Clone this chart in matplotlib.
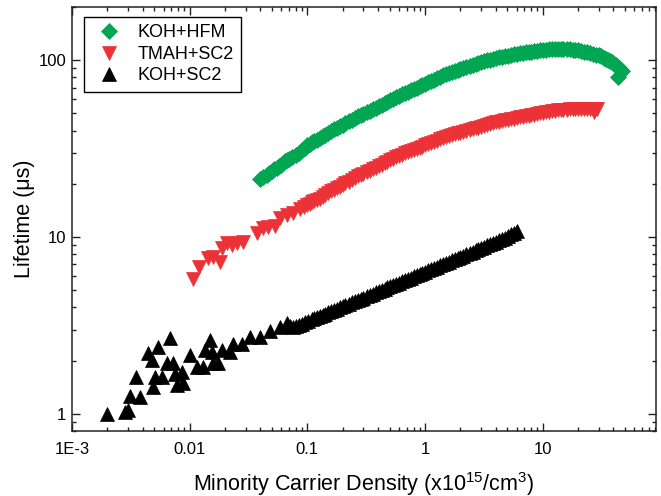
import matplotlib
matplotlib.use("Agg")
import matplotlib.pyplot as plt

plt.rcParams['font.family'] = ['Liberation Sans', 'DejaVu Sans']
plt.rcParams['mathtext.default'] = 'regular'

# KOH+HFM (green diamonds)
hfm_x = [0.04, 0.045, 0.05, 0.055, 0.06, 0.065, 0.07, 0.08, 0.09, 0.1,
         0.11, 0.12, 0.135, 0.15, 0.17, 0.19, 0.21, 0.24, 0.27, 0.3,
         0.34, 0.38, 0.43, 0.48, 0.54, 0.6, 0.68, 0.76, 0.85, 0.95,
         1.07, 1.2, 1.35, 1.5, 1.7, 1.9, 2.1, 2.4, 2.7, 3.0,
         3.4, 3.8, 4.3, 4.8, 5.4, 6.0, 6.8, 7.6, 8.5, 9.5,
         10.7, 12, 13.5, 15, 17, 19, 21, 24, 27, 30,
         33, 36, 39, 42, 45, 47, 43.5]
hfm_y = [21.2, 22.4, 23.6, 24.7, 25.7, 27.0, 27.6, 29.2, 30.9, 33.0,
         34.4, 35.6, 37.2, 38.8, 40.7, 42.5, 44.1, 46.2, 48.1, 49.8,
         51.9, 53.8, 56.1, 58.2, 60.5, 62.7, 65.3, 67.6, 70.0, 72.4,
         75.2, 77.8, 80.7, 83.4, 86.1, 88.5, 90.6, 93.3, 95.7, 97.7,
         100, 101.9, 103.8, 105.4, 107.2, 108.6, 110.2, 111.4, 112.7, 113.8,
         114.8, 115.3, 115.6, 115.6, 115.1, 114.3, 113, 110.9, 108.6, 106.4,
         103.5, 100.5, 97.3, 93.8, 90.2, 87.1, 80.0]
hfm_x2 = [0.0424, 0.0474, 0.0524, 0.0574, 0.0624, 0.0675, 0.0748, 0.0849, 0.0949, 0.105,
          0.115, 0.127, 0.142, 0.160, 0.180, 0.200, 0.225, 0.255, 0.285, 0.319,
          0.359, 0.404, 0.454, 0.509, 0.569, 0.639, 0.719, 0.804, 0.899, 1.008,
          1.133, 1.273, 1.423, 1.597, 1.797, 1.997, 2.245, 2.546, 2.846, 3.194,
          3.594, 4.042, 4.543, 5.091, 5.692, 6.387, 7.189, 8.037, 8.986, 10.08,
          11.33, 12.73, 14.23, 15.97, 17.97, 19.97, 22.45, 25.46, 28.46, 31.46,
          34.47, 37.47, 40.47, 43.47, 46.0]
hfm_y2 = [21.8, 23.0, 24.1, 25.2, 26.3, 27.3, 28.4, 30.0, 32.0, 33.7,
          35.0, 36.4, 38.0, 39.7, 41.6, 43.3, 45.1, 47.1, 48.9, 50.8,
          52.8, 54.9, 57.1, 59.3, 61.6, 64.0, 66.4, 68.8, 71.2, 73.8,
          76.5, 79.2, 82.0, 84.7, 87.3, 89.5, 91.9, 94.5, 96.7, 98.8,
          100.9, 102.8, 104.6, 106.3, 107.9, 109.4, 110.8, 112.0, 113.2, 114.3,
          115.0, 115.4, 115.6, 115.4, 114.7, 113.6, 112.0, 109.7, 107.5, 105.0,
          102.0, 98.9, 95.5, 92.0, 88.6]

# TMAH+SC2 (red down triangles)
tmah_x = [0.0107, 0.012, 0.0144, 0.0159, 0.0182, 0.0189, 0.0209, 0.023, 0.0254, 0.0285,
          0.0375, 0.0423, 0.0466, 0.0534, 0.0589, 0.0676, 0.076, 0.0871, 0.1,
          0.11, 0.12, 0.135, 0.15, 0.17, 0.19, 0.21, 0.24, 0.27, 0.3,
          0.34, 0.38, 0.43, 0.48, 0.54, 0.6, 0.68, 0.76, 0.85, 0.95,
          1.07, 1.2, 1.35, 1.5, 1.7, 1.9, 2.1, 2.4, 2.7, 3.0,
          3.4, 3.8, 4.3, 4.8, 5.4, 6.0, 6.8, 7.6, 8.5, 9.5,
          10.7, 12, 13.5, 15, 17, 19, 21, 24, 27, 29, 27.5]
tmah_y = [5.76, 6.74, 7.58, 7.68, 7.19, 8.63, 9.21, 8.97, 9.21, 9.33,
          10.6, 11.2, 11.4, 11.6, 12.8, 13.3, 13.6, 14.5, 15.1,
          15.7, 16.2, 16.9, 17.7, 18.5, 19.3, 20.1, 21.1, 22.0, 22.8,
          23.7, 24.6, 25.6, 26.6, 27.7, 28.7, 29.7, 30.6, 31.6, 32.5,
          33.6, 34.6, 35.7, 36.7, 37.8, 38.6, 39.4, 40.4, 41.2, 42.1,
          43.1, 44.0, 45.0, 45.7, 46.4, 47.1, 47.9, 48.6, 49.3, 50.0,
          50.8, 51.5, 52.0, 52.4, 52.7, 53.0, 53.1, 53.2, 53.2, 53.1, 50.8]
tmah_x2 = [0.0933, 0.105, 0.115, 0.127, 0.142, 0.160, 0.180, 0.200, 0.225, 0.255,
           0.285, 0.319, 0.359, 0.404, 0.454, 0.509, 0.569, 0.639, 0.719, 0.804,
           0.899, 1.008, 1.133, 1.273, 1.423, 1.597, 1.797, 1.997, 2.245, 2.546,
           2.846, 3.194, 3.594, 4.042, 4.543, 5.091, 5.692, 6.387, 7.189, 8.037,
           8.986, 10.08, 11.33, 12.73, 14.23, 15.97, 17.97, 19.97, 22.45, 25.46, 28.0]
tmah_y2 = [14.8, 15.4, 16.0, 16.5, 17.3, 18.1, 18.9, 19.7, 20.6, 21.5,
           22.4, 23.2, 24.1, 25.1, 26.1, 27.1, 28.2, 29.2, 30.1, 31.1,
           32.0, 33.0, 34.1, 35.1, 36.2, 37.2, 38.2, 39.0, 39.9, 40.8,
           41.6, 42.6, 43.5, 44.5, 45.3, 46.0, 46.7, 47.5, 48.2, 48.9,
           49.6, 50.4, 51.1, 51.7, 52.2, 52.5, 52.8, 53.0, 53.1, 53.2, 53.2]

# KOH+SC2 (black up triangles)
sc2_x = [0.00199, 0.00283, 0.0030, 0.00312, 0.00351, 0.00379, 0.00443, 0.0048, 0.00489, 0.00509,
         0.0054, 0.00583, 0.00644, 0.00682, 0.00724, 0.00753, 0.00783, 0.00863, 0.00881, 0.0101,
         0.0116, 0.013, 0.0135, 0.0149, 0.0155, 0.0158, 0.0175, 0.0189, 0.0221, 0.0235,
         0.028, 0.0327, 0.0398, 0.0484, 0.0589, 0.0676,
         0.075, 0.085, 0.095, 0.11, 0.12, 0.135, 0.15, 0.17, 0.19, 0.21,
         0.24, 0.27, 0.3, 0.34, 0.38, 0.43, 0.48, 0.54, 0.6, 0.68,
         0.76, 0.85, 0.95, 1.07, 1.2, 1.35, 1.5, 1.7, 1.9, 2.1,
         2.4, 2.7, 3.0, 3.4, 3.8, 4.3, 4.8, 5.4, 6.0]
sc2_y = [1.0, 1.02, 1.045, 1.27, 1.61, 1.24, 2.20, 2.01, 1.41, 1.61,
         2.38, 1.61, 1.93, 2.67, 1.93, 1.69, 1.45, 1.72, 1.49, 2.14,
         1.83, 1.83, 2.29, 2.60, 2.23, 1.95, 1.93, 2.29, 2.23, 2.50,
         2.50, 2.71, 2.71, 2.96, 3.08, 3.25,
         3.08, 3.19, 3.30, 3.43, 3.52, 3.64, 3.75, 3.88, 4.00, 4.11,
         4.27, 4.42, 4.55, 4.71, 4.86, 5.03, 5.19, 5.36, 5.52, 5.72,
         5.90, 6.09, 6.28, 6.49, 6.70, 6.93, 7.13, 7.39, 7.62, 7.84,
         8.15, 8.41, 8.67, 8.97, 9.27, 9.59, 9.89, 10.4, 10.8]
sc2_x2 = [0.0712, 0.0798, 0.0899, 0.102, 0.115, 0.127, 0.142, 0.160, 0.180, 0.200,
          0.225, 0.255, 0.285, 0.319, 0.359, 0.404, 0.454, 0.509, 0.569, 0.639,
          0.719, 0.804, 0.899, 1.008, 1.133, 1.273, 1.423, 1.597, 1.797, 1.997,
          2.245, 2.546, 2.846, 3.194, 3.594, 4.042, 4.543, 5.091, 5.692]
sc2_y2 = [3.16, 3.13, 3.24, 3.36, 3.47, 3.58, 3.69, 3.81, 3.94, 4.05,
          4.19, 4.34, 4.48, 4.63, 4.78, 4.94, 5.11, 5.27, 5.44, 5.62,
          5.81, 5.99, 6.18, 6.38, 6.59, 6.81, 7.03, 7.26, 7.50, 7.73,
          7.99, 8.28, 8.54, 8.82, 9.12, 9.43, 9.74, 10.1, 10.6]

fig = plt.figure(figsize=(6.61, 4.96), dpi=100)
ax = fig.add_axes([72/661, 1 - 431/496, 584/661, 424/496])

green = '#00A651'
red = '#ED3237'
ax.plot(hfm_x + hfm_x2, hfm_y + hfm_y2, ls='none', marker='D', ms=8.6, color=green,
        mec=green, mew=0.5, label='KOH+HFM')
ax.plot(tmah_x + tmah_x2, tmah_y + tmah_y2, ls='none', marker='v', ms=10, color=red,
        mec=red, mew=0.5, label='TMAH+SC2')
ax.plot(sc2_x + sc2_x2, sc2_y + sc2_y2, ls='none', marker='^', ms=10, color='black',
        mec='black', mew=0.5, label='KOH+SC2')

ax.set_xscale('log')
ax.set_yscale('log')
ax.set_xlim(1e-3, 92)
ax.set_ylim(0.8, 200)
ax.set_xticks([1e-3, 1e-2, 1e-1, 1, 10], ['1E-3', '0.01', '0.1', '1', '10'])
ax.set_yticks([1, 10, 100], ['1', '10', '100'])
ax.tick_params(which='both', direction='in', top=True, right=True,
               labelsize=12, color='#222222', width=1)
ax.tick_params(which='major', length=6)
ax.tick_params(axis='x', which='major', pad=8)
ax.tick_params(axis='y', which='major', pad=4)
ax.tick_params(which='minor', length=3)
for s in ax.spines.values():
    s.set_linewidth(1.1)
    s.set_color('#222222')

ax.set_xlabel('Minority Carrier Density (x10$^{15}$/cm$^{3}$)', fontsize=15.5, labelpad=9)
ax.set_ylabel('Lifetime (μs)', fontsize=15.5, labelpad=3)

leg = ax.legend(loc='upper left', bbox_to_anchor=(0.0205, 0.976), borderaxespad=0,
                fontsize=13, fancybox=False, framealpha=1, edgecolor='black',
                borderpad=0.4, handlelength=2.0, handletextpad=0.55, labelspacing=0.25)
leg.get_frame().set_linewidth(1.0)

fig.savefig('out.png', dpi=100)
